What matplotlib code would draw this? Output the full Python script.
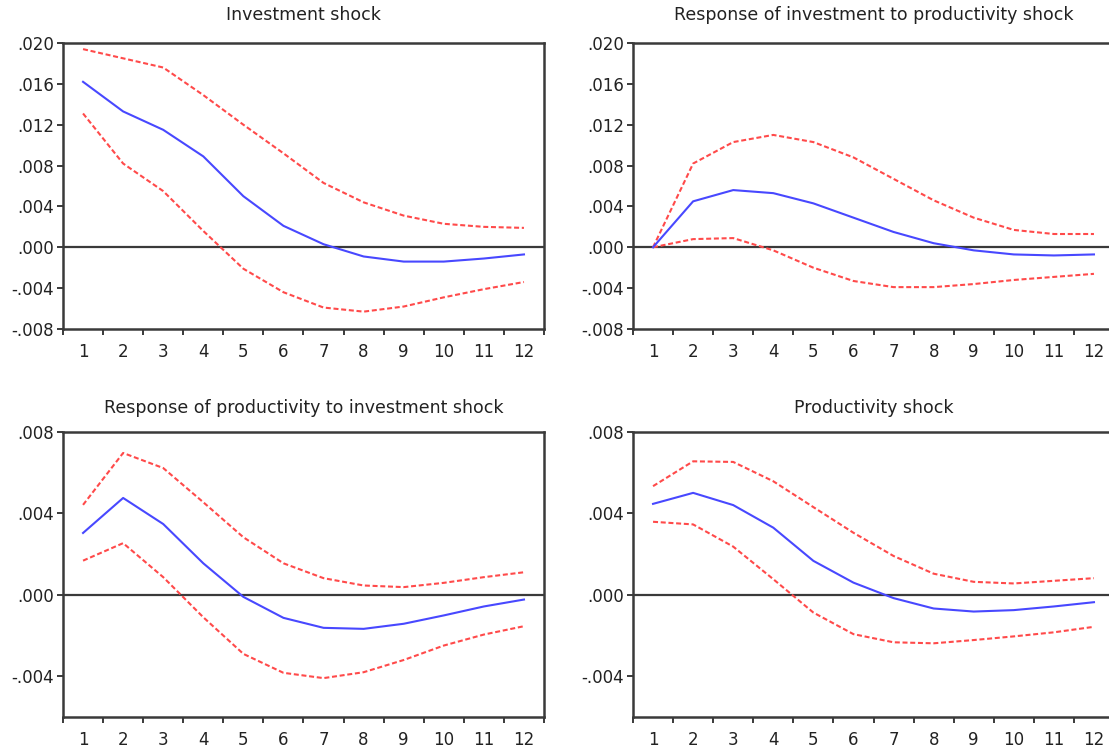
import matplotlib
matplotlib.use("Agg")
import matplotlib.pyplot as plt
from matplotlib.ticker import FixedLocator, FuncFormatter

plt.rcParams['font.family'] = ['DejaVu Sans']

periods = list(range(1, 13))
tick_labels = [str(p) for p in periods]

titles = ["Investment shock",
          "Response of investment to productivity shock",
          "Response of productivity to investment shock",
          "Productivity shock"]

# Panel 1: Investment shock
inv_shock_resp = [0.0162, 0.0133, 0.0115, 0.0089, 0.0050, 0.0021, 0.0003, -0.0009, -0.0014, -0.0014, -0.0011, -0.0007]
inv_shock_upper = [0.0194, 0.0185, 0.0176, 0.0149, 0.0120, 0.0092, 0.0063, 0.0044, 0.0031, 0.0023, 0.0020, 0.0019]
inv_shock_lower = [0.0131, 0.0082, 0.0055, 0.0016, -0.0021, -0.0044, -0.0059, -0.0063, -0.0058, -0.0049, -0.0041, -0.0034]

# Panel 2: Response of investment to productivity shock
inv_prod_resp = [0.0, 0.0045, 0.0056, 0.0053, 0.0043, 0.0029, 0.0015, 0.0004, -0.0003, -0.0007, -0.0008, -0.0007]
inv_prod_upper = [0.0, 0.0082, 0.0103, 0.0110, 0.0103, 0.0088, 0.0067, 0.0046, 0.0029, 0.0017, 0.0013, 0.0013]
inv_prod_lower = [0.0, 0.0008, 0.0009, -0.0003, -0.0020, -0.0033, -0.0039, -0.0039, -0.0036, -0.0032, -0.0029, -0.0026]

# Panel 3: Response of productivity to investment shock
prod_inv_resp = [0.00304, 0.00476, 0.00348, 0.00155, -0.0001, -0.00113, -0.00162, -0.00167, -0.00142, -0.00101, -0.00057, -0.00023]
prod_inv_upper = [0.00442, 0.00697, 0.00623, 0.00455, 0.00283, 0.00155, 0.00082, 0.00046, 0.00038, 0.00059, 0.00087, 0.00111]
prod_inv_lower = [0.00168, 0.00254, 0.00087, -0.0011, -0.0029, -0.00383, -0.00409, -0.0038, -0.0032, -0.00249, -0.00195, -0.00154]

# Panel 4: Productivity shock
prod_shock_resp = [0.00447, 0.00501, 0.00441, 0.0033, 0.00167, 0.0006, -0.00016, -0.00067, -0.00082, -0.00075, -0.00057, -0.00036]
prod_shock_upper = [0.00534, 0.00656, 0.00653, 0.00558, 0.00431, 0.00305, 0.00191, 0.00104, 0.00064, 0.00056, 0.00069, 0.00082]
prod_shock_lower = [0.00359, 0.00346, 0.00237, 0.00077, -0.00087, -0.00193, -0.00233, -0.00238, -0.00222, -0.00204, -0.00184, -0.00157]

top_yticks = [0.020, 0.016, 0.012, 0.008, 0.004, 0.000, -0.004, -0.008]
bottom_yticks = [0.008, 0.004, 0.000, -0.004]

panels = [
    (inv_shock_resp, inv_shock_upper, inv_shock_lower, (-0.008, 0.020), top_yticks),
    (inv_prod_resp, inv_prod_upper, inv_prod_lower, (-0.008, 0.020), top_yticks),
    (prod_inv_resp, prod_inv_upper, prod_inv_lower, (-0.006, 0.008), bottom_yticks),
    (prod_shock_resp, prod_shock_upper, prod_shock_lower, (-0.006, 0.008), bottom_yticks),
]

W, H = 1109, 751
fig = plt.figure(figsize=(W / 100, H / 100), dpi=100)
fig.patch.set_facecolor('white')

# positions in pixels: left, top, right, bottom (right panels run past the canvas edge)
boxes = [
    (63, 43, 544, 329),
    (633, 43, 1114, 329),
    (63, 432, 544, 717),
    (633, 432, 1114, 717),
]
title_y_px = [15, 15, 408, 408]

spine_col = '#3a3a3a'
blue = '#4848ff'
red = '#ff4a4a'

def fmt(v, pos):
    s = "%.3f" % v
    if s.startswith("-0"):
        s = "-" + s[2:]
    elif s.startswith("0"):
        s = s[1:]
    if s == "-.000":
        s = ".000"
    return s

for i, (resp, up, lo, ylim, yt) in enumerate(panels):
    l, t, r, b = boxes[i]
    ax = fig.add_axes([l / W, 1 - b / H, (r - l) / W, (b - t) / H])
    ax.axhline(0, color=spine_col, lw=1.6, zorder=1)
    ax.plot(periods, up, color=red, lw=1.5, linestyle=(0, (2.4, 1.3)), zorder=2)
    ax.plot(periods, lo, color=red, lw=1.5, linestyle=(0, (2.4, 1.3)), zorder=2)
    ax.plot(periods, resp, color=blue, lw=1.5, zorder=3)
    ax.set_xlim(0.5, 12.5)
    ax.set_ylim(*ylim)
    ax.yaxis.set_major_locator(FixedLocator(yt))
    ax.yaxis.set_major_formatter(FuncFormatter(fmt))
    ax.xaxis.set_major_locator(FixedLocator(periods))
    ax.set_xticklabels(tick_labels)
    ax.xaxis.set_minor_locator(FixedLocator([p + 0.5 for p in [0] + periods]))
    ax.tick_params(axis='x', which='major', length=0, pad=10, labelsize=12, colors='#222222')
    ax.tick_params(axis='x', which='minor', length=4.5, width=1.4, direction='out', color=spine_col)
    ax.tick_params(axis='y', which='major', length=4.5, width=1.4, direction='out', pad=2,
                   labelsize=12, color=spine_col, labelcolor='#222222')
    for s in ax.spines.values():
        s.set_color(spine_col)
        s.set_linewidth(1.8)
    if i % 2 == 1:
        ax.spines['right'].set_visible(False)
    cx = (l + r) / 2 / W
    fig.text(cx, 1 - title_y_px[i] / H, titles[i], ha='center', va='center',
             fontsize=12.5, color='#222222')

fig.savefig("out.png", dpi=100)
